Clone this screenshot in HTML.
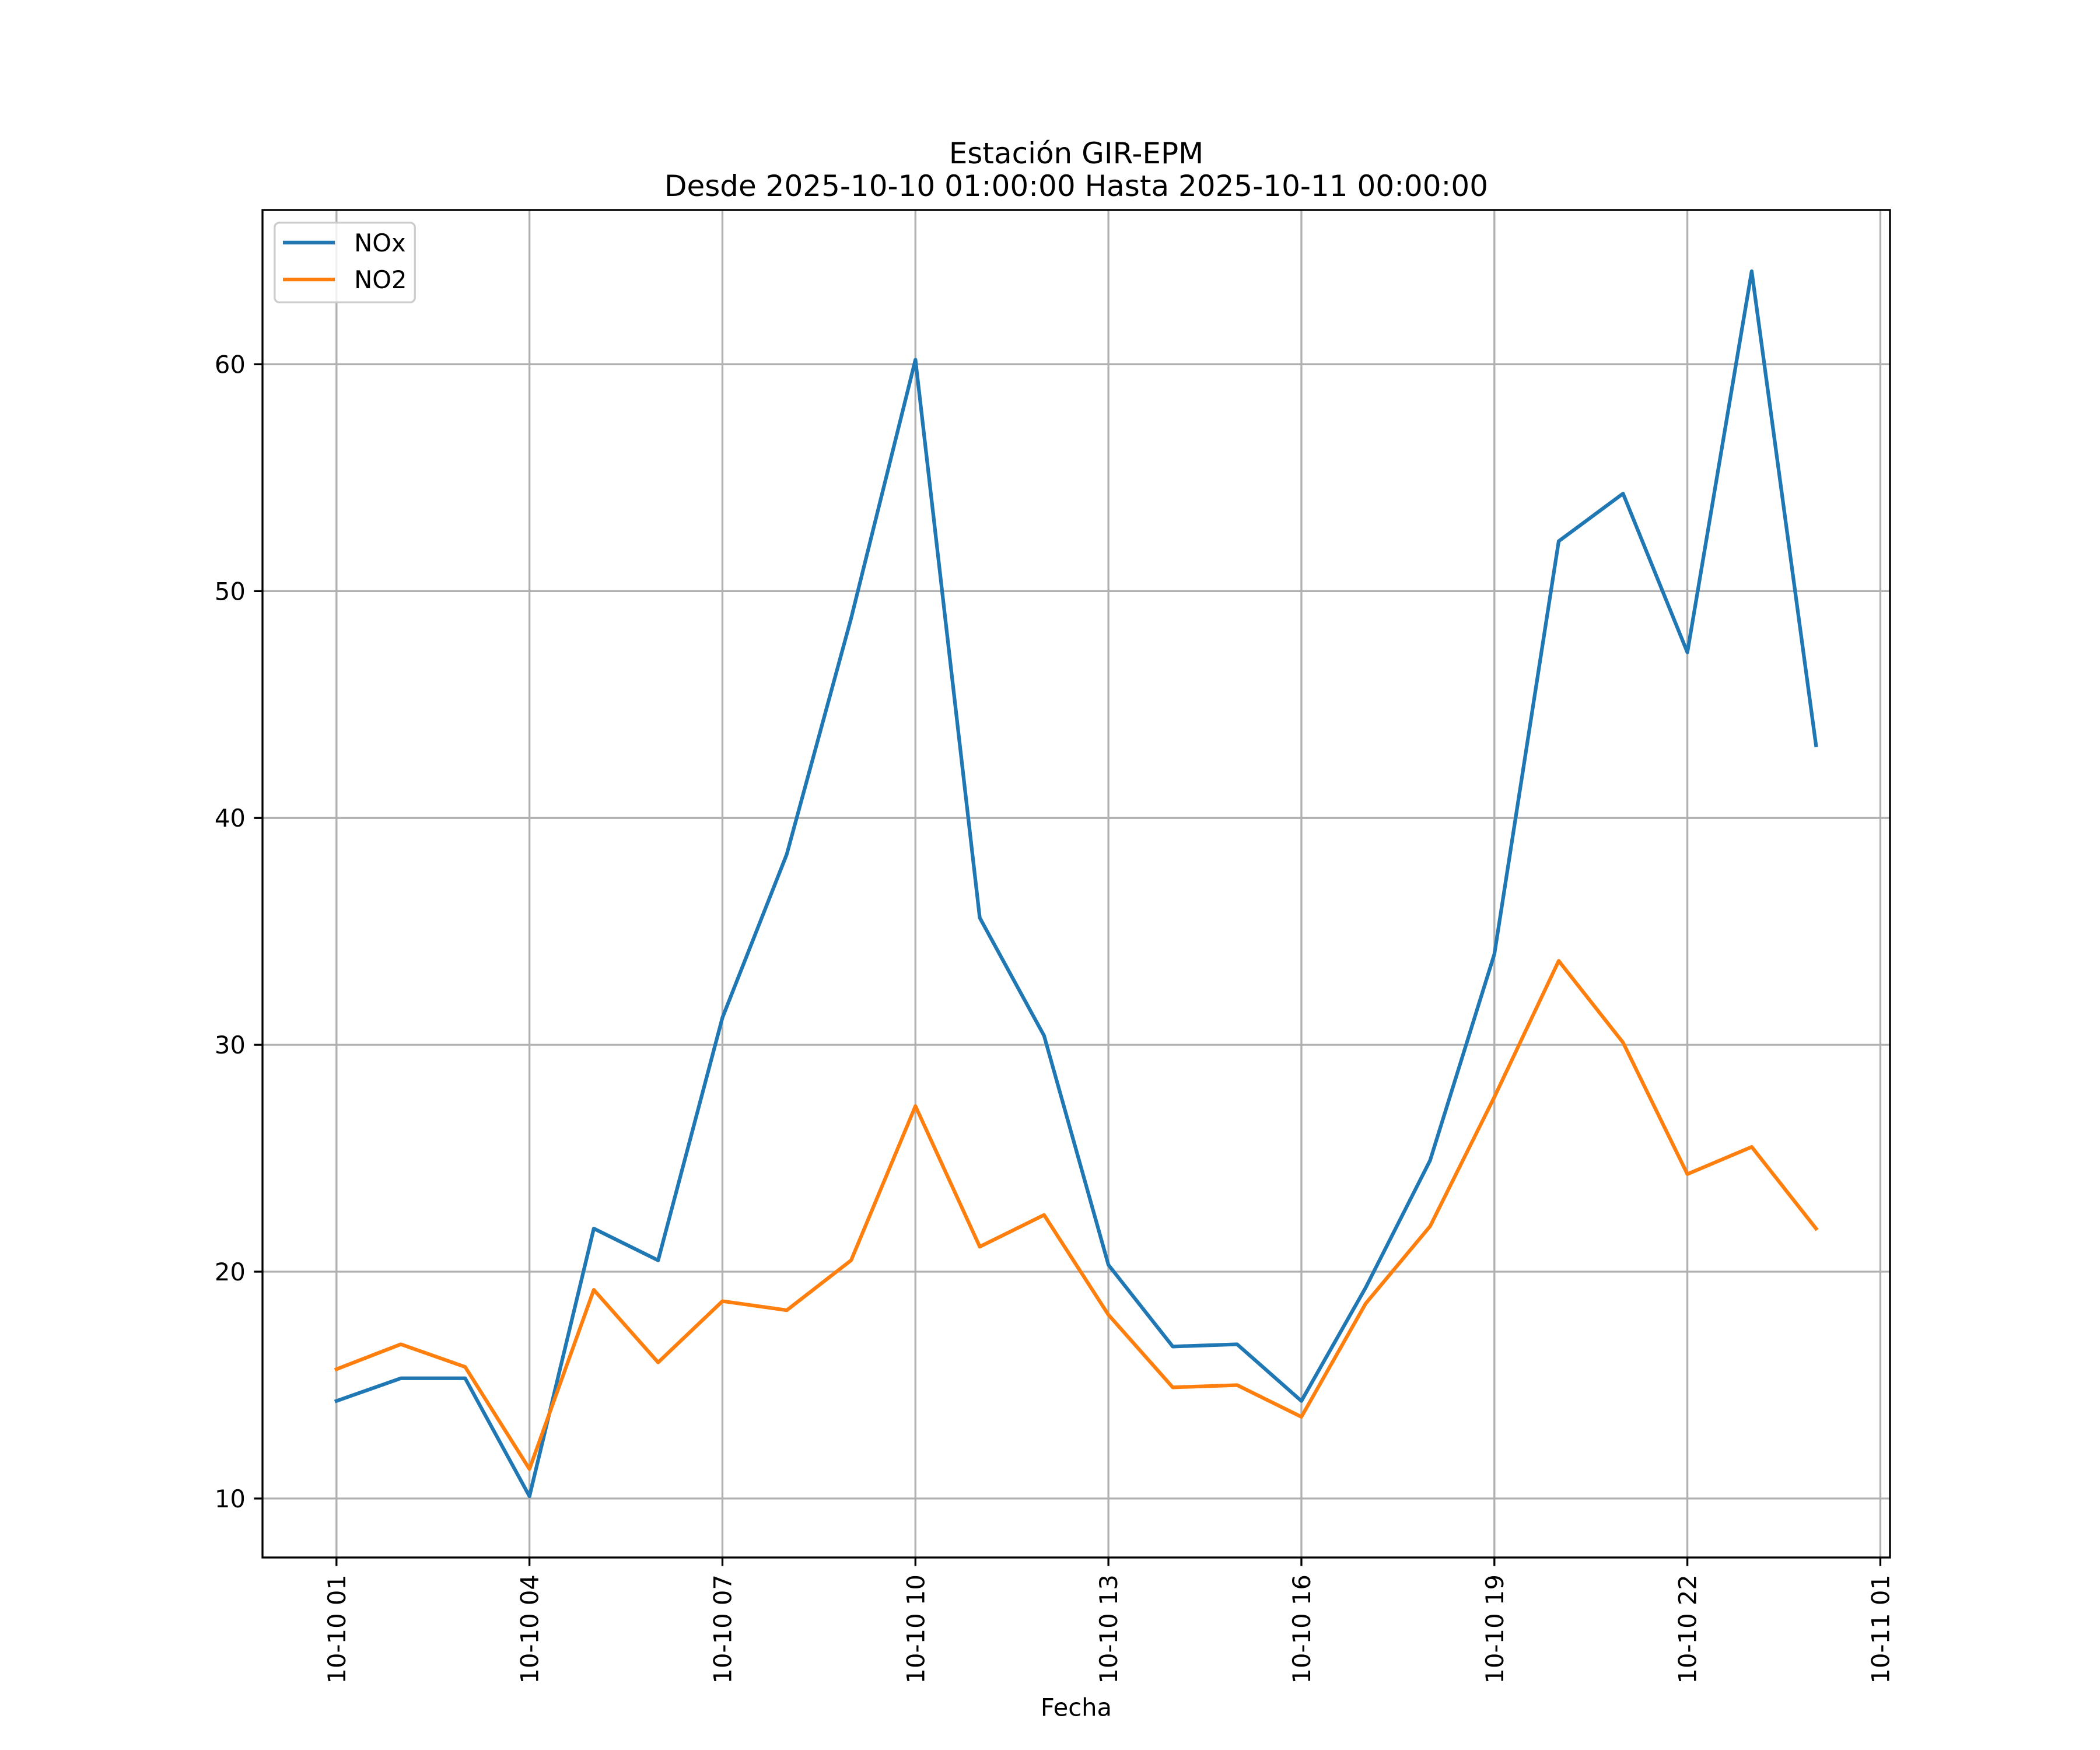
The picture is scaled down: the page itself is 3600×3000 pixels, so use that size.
<!DOCTYPE html>
<html><head><meta charset="utf-8"><style>
html,body{margin:0;padding:0;background:#fff}
svg{display:block;font-family:"DejaVu Sans","Liberation Sans",sans-serif}
</style></head><body>
<svg id="chart" width="3600" height="3000" viewBox="0 0 864 720" xmlns="http://www.w3.org/2000/svg">
<rect width="864" height="720" fill="#fff"/>
<text x="442.8" y="67.2" font-size="12" text-anchor="middle">Estación GIR-EPM</text>
<text x="442.8" y="80.6" font-size="12" text-anchor="middle">Desde 2025-10-10 01:00:00 Hasta 2025-10-11 00:00:00</text>
<g id="grid"></g>
<g id="series"></g>
<rect x="108" y="86.4" width="669.6" height="554.4" fill="none" stroke="#000" stroke-width="0.8"/>
<g id="ticks"></g>
<text x="442.8" y="706" font-size="10" text-anchor="middle">Fecha</text>
<g>
<rect x="113" y="91.6" width="57.7" height="32.8" rx="2" fill="#fff" fill-opacity="0.8" stroke="#cccccc" stroke-width="0.8"/>
<line x1="116.4" y1="99.8" x2="137.8" y2="99.8" stroke="#1f77b4" stroke-width="1.5"/>
<text x="145.7" y="103.4" font-size="10">NOx</text>
<line x1="116.4" y1="115" x2="137.8" y2="115" stroke="#ff7f0e" stroke-width="1.5"/>
<text x="145.7" y="118.6" font-size="10">NO2</text>
</g>
</svg>
<script>
const hours = [1,2,3,4,5,6,7,8,9,10,11,12,13,14,15,16,17,18,19,20,21,22,23,24];
const noxValues = [14.3,15.3,15.3,10.1,21.9,20.5,31.2,38.4,48.8,60.2,35.6,30.4,20.3,16.7,16.8,14.3,19.3,24.9,34.0,52.2,54.3,47.3,64.1,43.2];
const no2Values = [15.7,16.8,15.8,11.3,19.2,16.0,18.7,18.3,20.5,27.3,21.1,22.5,18.1,14.9,15.0,13.6,18.6,22.0,27.7,33.7,30.1,24.3,25.5,21.9];
const xTickHours = [1,4,7,10,13,16,19,22,25];
const xTickLabels = ["10-10 01","10-10 04","10-10 07","10-10 10","10-10 13","10-10 16","10-10 19","10-10 22","10-11 01"];
const yTicks = [10,20,30,40,50,60];

const NS="http://www.w3.org/2000/svg";
const L=108,R=777.6,T=86.4,B=640.8;
const xMin=1-1.15,xMax=24+1.15,yMin=7.4,yMax=66.8;
function xs(h){return L+(h-xMin)*(R-L)/(xMax-xMin);}
function ys(v){return B-(v-yMin)*(B-T)/(yMax-yMin);}
function mk(tag,attrs,parent){const e=document.createElementNS(NS,tag);for(const k in attrs)e.setAttribute(k,attrs[k]);parent.appendChild(e);return e;}
const grid=document.getElementById('grid'),ticks=document.getElementById('ticks'),series=document.getElementById('series');
xTickHours.forEach((h,i)=>{
  const x=xs(h);
  const g=mk('line',{x1:x,x2:x,y1:T,y2:B,stroke:'#b0b0b0','stroke-width':0.8},grid);
  
  
  const t=mk('line',{x1:x,x2:x,y1:B,y2:B+3.5,stroke:'#000','stroke-width':0.8},ticks);
  
  
  const l=mk('text',{transform:`translate(${x+3.6},${B+7}) rotate(-90)`,'font-size':10,'text-anchor':'end'},ticks);
  l.textContent=xTickLabels[i];
  
  
});
yTicks.forEach(v=>{
  const y=ys(v);
  const g=mk('line',{x1:L,x2:R,y1:y,y2:y,stroke:'#b0b0b0','stroke-width':0.8},grid);
  
  
  const t=mk('line',{x1:L-3.5,x2:L,y1:y,y2:y,stroke:'#000','stroke-width':0.8},ticks);
  
  
  const l=mk('text',{x:L-7,y:y+3.6,'font-size':10,'text-anchor':'end'},ticks);
  l.textContent=v;
  
  
});
function drawLine(vals,color,name){
  const pts=vals.map((v,i)=>xs(hours[i])+','+ys(v)).join(' ');
  const p=mk('polyline',{points:pts,fill:'none',stroke:color,'stroke-width':1.5,'stroke-linejoin':'round','stroke-linecap':'square'},series);
  
  
}
drawLine(noxValues,'#1f77b4','nox-line');
drawLine(no2Values,'#ff7f0e','no2-line');
</script>
</body></html>
